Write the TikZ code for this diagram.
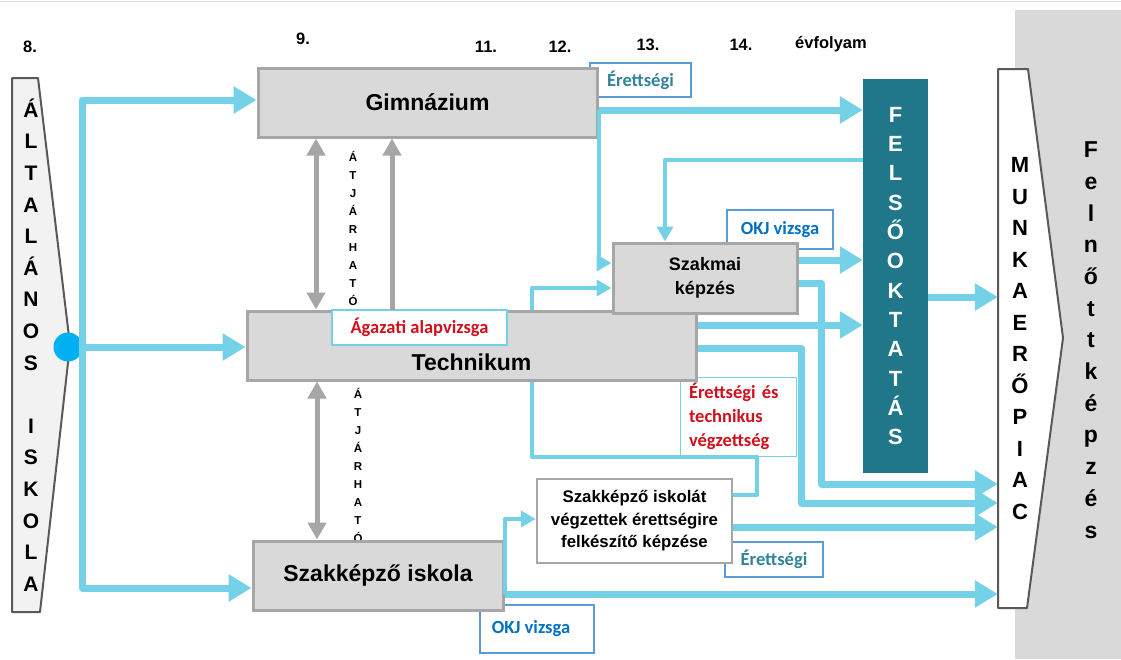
\documentclass[tikz,border=0pt]{standalone}
\usepackage{fontspec}
\setmainfont{Liberation Sans}
\newfontfamily\tagfont{Carlito}
\usepackage{tikz}
\usetikzlibrary{arrows.meta,positioning}

\definecolor{flowblue}{HTML}{74D1E8}
\definecolor{dotblue}{HTML}{00B0F0}
\definecolor{boxfill}{HTML}{D9D9D9}
\definecolor{boxline}{HTML}{A6A6A6}
\definecolor{felsteal}{HTML}{21778A}
\definecolor{shapeline}{HTML}{595959}
\definecolor{tagred}{HTML}{D0101C}
\definecolor{tagteal}{HTML}{31849B}
\definecolor{tagblue}{HTML}{0070C0}
\definecolor{tagline}{HTML}{5B9BD5}

\newcommand{\sz}[2]{\fontsize{#1}{#2}\selectfont}

\begin{document}
\begin{tikzpicture}[x=1pt, y=-1pt,
  school/.style = {draw=boxline, fill=boxfill, line width=3pt, inner sep=0pt, align=center, font=\bfseries\sz{23}{27}},
  tag/.style = {draw=tagline, fill=white, line width=1.5pt, inner sep=0pt, font=\tagfont\bfseries\sz{18.5}{24}},
  stack/.style = {align=center, inner sep=0pt, font=\bfseries\sz{22}{31.5}},
  year/.style = {font=\bfseries\sz{16.5}{20}},
  flow/.style = {draw=flowblue, line width=7pt, line join=round, >={Triangle[width=26pt,length=23pt]}},
  thinflow/.style = {draw=flowblue, line width=4pt, line join=round, >={Triangle[width=16pt,length=15pt]}},
  pass/.style = {draw=boxline, line width=5pt, >={Triangle[width=18pt,length=17pt]}}]
\useasboundingbox (0,0) rectangle (1121,659);

% background panel and outline shapes
\fill[boxfill] (1015,10) rectangle (1121,659);
\draw[gray!25] (0,1) -- (1121,1);
\draw[shapeline, fill=gray!10, line width=2pt, line join=round] (12,78) -- (38,78) -- (70,345) -- (40,612) -- (12,612) -- cycle;
\draw[shapeline, fill=white, line width=2pt, line join=round] (998,69) -- (1028,69) -- (1063,338) -- (1027,608) -- (998,608) -- cycle;

% years
\node[year] (y8) at (30,47) {8.};
\node[year] (y9) at (303,39) {9.};
\node[year] (y11) at (486,47) {11.};
\node[year] (y12) at (560,47) {12.};
\node[year] (y13) at (648,45) {13.};
\node[year] (y14) at (741,45) {14.};
\node[year] (yevf) at (831,44) {évfolyam};

% labels behind the boxes
\node[tag, text=tagteal, minimum width=101pt, minimum height=34pt] (eret1) at (640.5,80) {Érettségi};
\node[tag, text=tagblue, minimum width=106pt, minimum height=39pt] (okj1) at (780,229.5) {OKJ vizsga};
\node[tag, draw=flowblue, line width=1pt, text=tagred, minimum width=116pt, minimum height=79pt, text width=98pt, align=left] (vegzl) at (738,416.5) {Érettségi és\\technikus\\végzettség};
\node[tag, text=tagteal, minimum width=98pt, minimum height=35pt] (eret2) at (774,559.5) {Érettségi};
\node[tag, text=tagblue, minimum width=114pt, minimum height=48pt] (okj2) at (537,629) {\hspace*{-12pt}OKJ vizsga};
\node[stack, font=\bfseries\sz{11.5}{18}] (atj1) at (353,228.5) {Á\\T\\J\\Á\\R\\H\\A\\T\\Ó};
\node[stack, font=\bfseries\sz{11.5}{18}] (atj2) at (358,465) {Á\\T\\J\\Á\\R\\H\\A\\T\\Ó};

% schools
\node[stack, font=\bfseries\sz{21}{31.6}, minimum width=38pt, minimum height=534pt] (alt) at (31,345) {Á\\L\\T\\A\\L\\Á\\N\\O\\S\\[31.6pt]I\\S\\K\\O\\L\\A};
\node[circle, fill=dotblue, minimum size=29pt, inner sep=0pt] (dot) at (68,347) {};
\coordinate (trunk) at (82,347);
\node[school, minimum width=339pt, minimum height=69pt] (gimn) at (427.5,102.5) {Gimnázium};
\node[school, minimum width=449pt, minimum height=69pt, text height=49pt, text depth=0pt] (tech) at (471.5,345.5) {Technikum};
\node[tag, draw=flowblue, text=tagred, minimum width=175pt, minimum height=35pt] (agaz) at (419.5,327.5) {Ágazati alapvizsga};
\node[school, minimum width=250pt, minimum height=69pt] (szki) at (378,575.5) {Szakképző iskola};
\node[school, font=\bfseries\sz{18}{24}, minimum width=184pt, minimum height=70pt] (szak) at (705,278) {Szakmai\\képzés};
\node[school, fill=white, line width=2.5pt, font=\bfseries\sz{16.8}{22.5}, minimum width=195pt, minimum height=84pt] (vegz) at (634.5,521) {Szakképző iskolát\\végzettek érettségire\\felkészítő képzése};
\node[stack, fill=felsteal, text=white, font=\bfseries\sz{22}{29.3}, minimum width=65pt, minimum height=394pt] (felso) at (895.5,276) {F\\E\\L\\S\\Ő\\O\\K\\T\\A\\T\\Á\\S};
\node[stack, minimum width=44pt, minimum height=539pt] (munka) at (1020,338.5) {M\\U\\N\\K\\A\\E\\R\\Ő\\P\\I\\A\\C};
\node[stack, font=\bfseries\sz{23}{31.7}] (felnott) at (1091,340) {F\\e\\l\\n\\ő\\t\\t\\k\\é\\p\\z\\é\\s};

% crossing between schools
\draw[pass, <->] ([xshift=-111.5pt]gimn.south) -- ([xshift=-111.5pt]gimn.south |- tech.north);
\draw[pass, ->] ([xshift=-79.5pt]tech.north) -- ([xshift=-79.5pt]tech.north |- gimn.south);
\draw[pass, <->] ([xshift=-154.5pt]tech.south) -- ([xshift=-154.5pt]tech.south |- szki.north);

% flows
\draw[flow, <->] ([yshift=2.5pt]gimn.west) -| (trunk) |- ([yshift=-12.5pt]szki.west);
\draw[flow, ->] (dot) -- (dot -| tech.west);

\coordinate (gOut) at ([yshift=-7.5pt]gimn.east);
\draw[flow, ->] (gOut) -- (gOut -| felso.west);
\draw[thinflow, ->] (gOut) |- ([yshift=15pt]szak.west);
\draw[thinflow, ->] ([yshift=116pt]felso.west) -| ([xshift=-40pt]szak.north);
\draw[thinflow, ->] ([xshift=60.5pt]tech.north) |- ([yshift=-10pt]szak.west);

\coordinate (sOut) at ([yshift=18pt]szak.east);
\draw[flow, ->] (sOut) -- (sOut -| felso.west);
\coordinate (tOut) at ([yshift=20.5pt]tech.east);
\draw[flow, ->] (tOut) -- (tOut -| felso.west);
\coordinate (fOut) at ([yshift=-21pt]felso.east);
\draw[flow, ->] (fOut) -- (fOut -| munka.west);

\draw[flow, ->] ([yshift=-5pt]szak.east) -- ++(23,0) |- ([yshift=-145.5pt]munka.west);
\draw[flow, ->] ([yshift=-2.5pt]tech.east) -- ++(104,0) |- ([yshift=-164.5pt]munka.west);
\draw[thinflow] ([xshift=60.5pt]tech.south) |- ++(225,75) |- ([yshift=26pt]vegz.east);

\coordinate (vOut) at ([yshift=-6pt]vegz.east);
\draw[flow, ->] (vOut) -- (vOut -| munka.west);
\coordinate (kOut) at ([yshift=-18.5pt]szki.east);
\draw[flow, ->] (kOut) -- (kOut -| munka.west);
\draw[thinflow, ->] (kOut) |- ([yshift=2pt]vegz.west);
\end{tikzpicture}
\end{document}
